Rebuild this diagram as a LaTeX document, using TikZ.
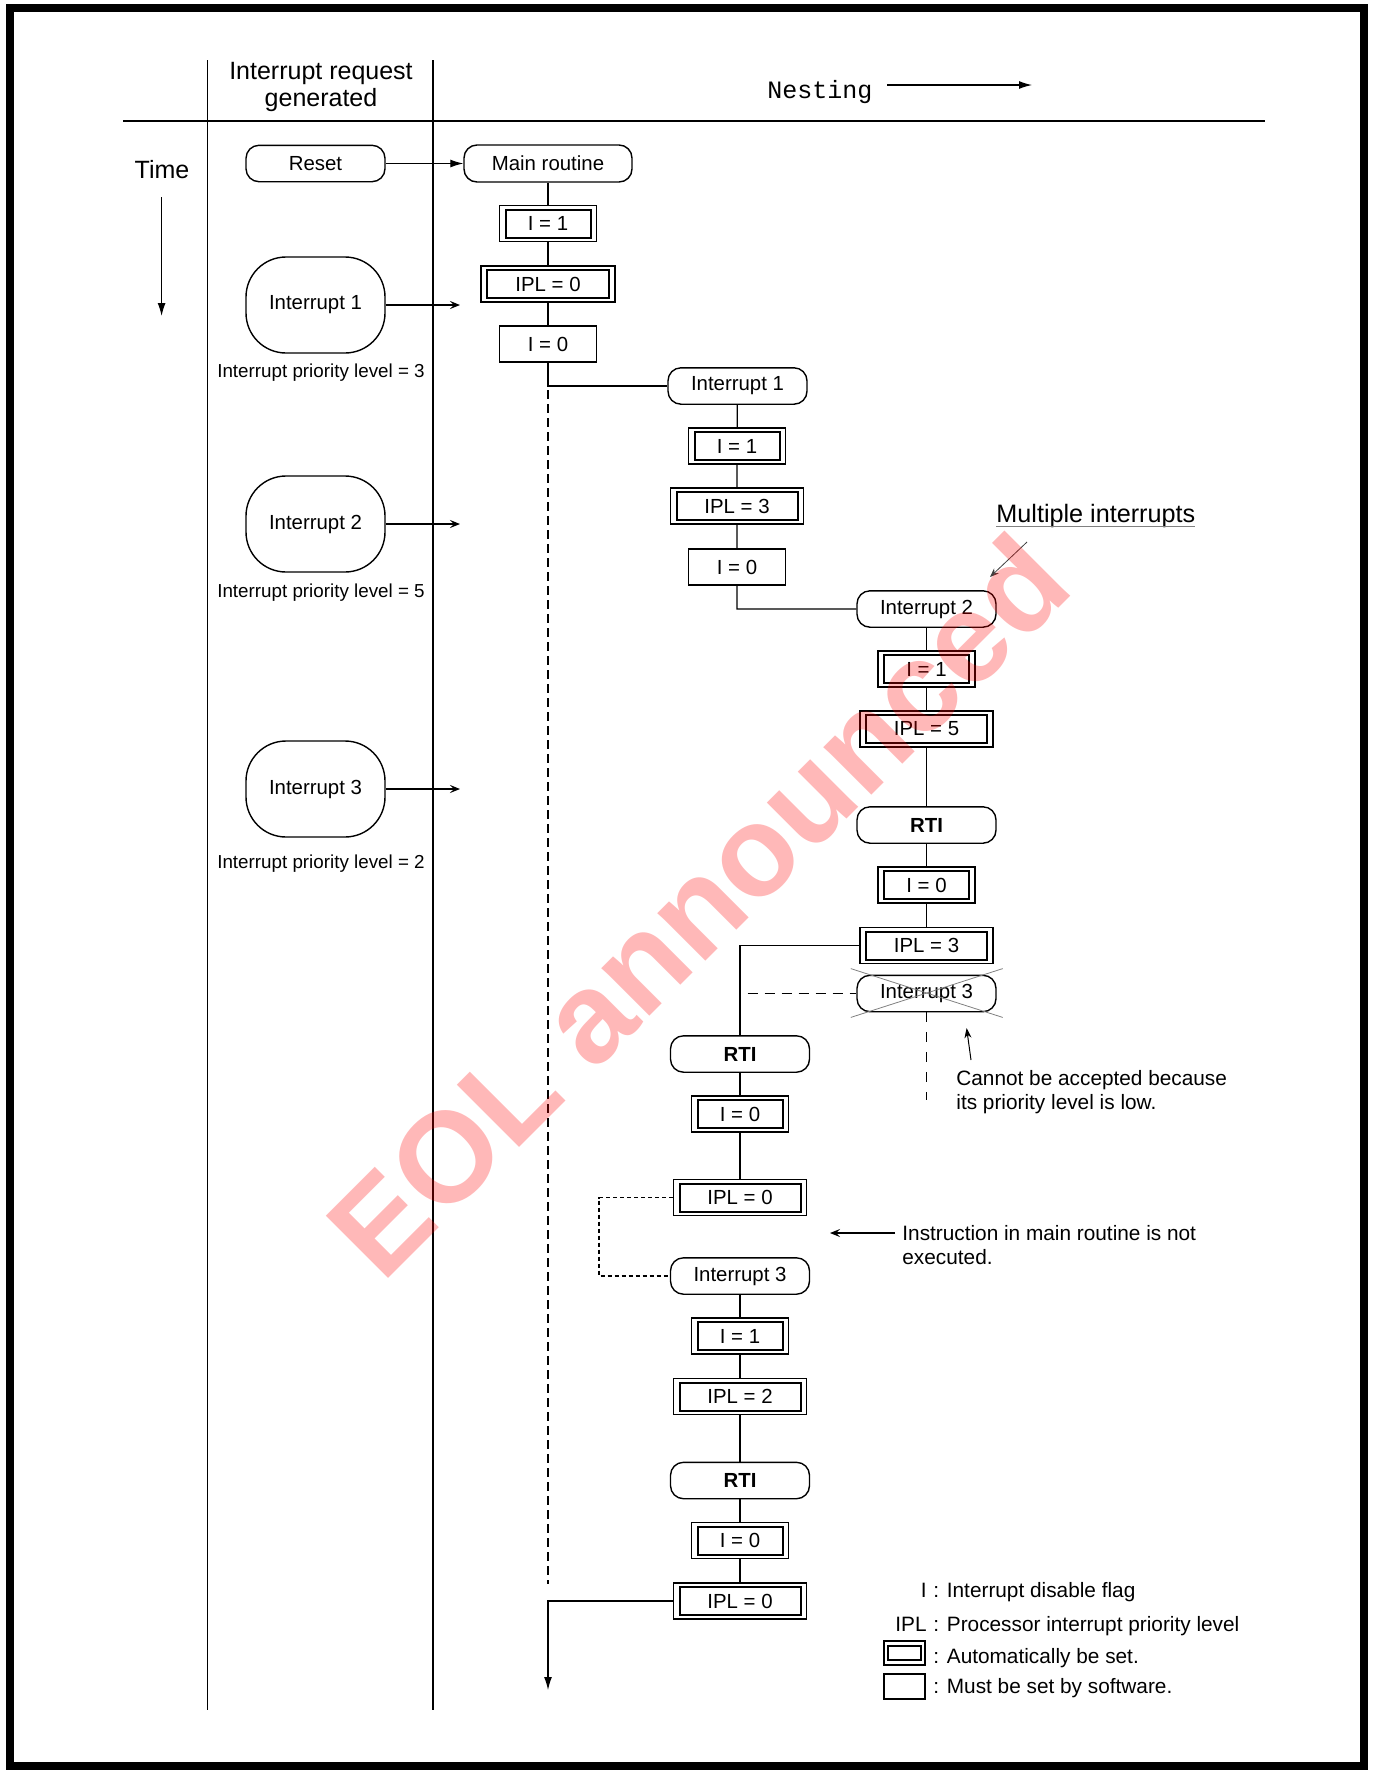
\documentclass[tikz,border=0pt]{standalone}
\usepackage{fontspec}
\setmainfont{Liberation Sans}
\newfontfamily\monofont{Liberation Mono}
\usetikzlibrary{arrows.meta,calc}
\begin{document}
\begin{tikzpicture}[x=0.5pt,y=-0.5pt,
  every node/.style={font=\fontsize{10.2}{12}\selectfont, inner sep=0pt},
  term/.style={draw, line width=0.7pt, rounded corners=6.5pt, minimum width=69.5pt, minimum height=18.2pt},
  bigterm/.style={draw, line width=0.7pt, rounded corners=20pt, minimum width=69.5pt, minimum height=48pt},
  sbox/.style={draw, line width=0.7pt, minimum width=48.5pt, minimum height=18pt},
  abox/.style={draw, line width=0.7pt, minimum width=48.5pt, minimum height=18pt,
     path picture={\draw[line width=1pt] ([shift={(3pt,-2pt)}]path picture bounding box.north west) rectangle ([shift={(-3pt,2pt)}]path picture bounding box.south east);}},
  wbox/.style={abox, minimum width=66.5pt},
  conn/.style={line width=0.6pt},
  dashline/.style={line width=0.6pt, dash pattern=on 4.5pt off 2.5pt},
  dashh/.style={line width=0.6pt, dash pattern=on 5pt off 3.5pt},
  dotline/.style={line width=0.6pt, dash pattern=on 2pt off 1.5pt},
  solidarrow/.style={line width=0.6pt, -{Latex[length=6.5pt,width=4pt]}},
  barb/.style={line width=0.6pt, -{Stealth[length=5pt,width=4pt,inset=2pt]}},
  annot/.style={font=\fontsize{10.4}{11.8}\selectfont, align=left},
  prio/.style={font=\fontsize{9.4}{11}\selectfont},
  head/.style={font=\fontsize{12.5}{13.5}\selectfont, align=center}
]
\useasboundingbox (0,0) rectangle (1372,1773);
% frame
\draw[line width=4pt] (10,7.5) rectangle (1364,1766);

% header
\draw[conn] (207.5,60) -- (207.5,1710);
\draw[conn] (433,60) -- (433,1710);
\draw[conn] (123,121) -- (1265,121);
\node[head] (hdr) at (321,86.5) {Interrupt request\\generated};
\node[font=\monofont\fontsize{12.5}{13}\selectfont, anchor=base] (nest) at (820,98) {Nesting};
\coordinate (na) at (887,85);
\coordinate (nb) at (1032,85);
\draw[solidarrow] (na) -- (nb);
\node[font=\fontsize{12.5}{13}\selectfont, anchor=base] (time) at (162,178) {Time};
\coordinate (ta) at (161.6,197);
\coordinate (tb) at (161.6,316);
\draw[solidarrow] (ta) -- (tb);

% left column
\node[term] (reset) at (315.5,163.5) {Reset};
\node[bigterm] (irq1) at (315.5,305) {Interrupt 1};
\node[prio] (p1) at (321,373) {Interrupt priority level = 3};
\node[bigterm] (irq2) at (315.5,524) {Interrupt 2};
\node[prio] (p2) at (321,593) {Interrupt priority level = 5};
\node[bigterm] (irq3) at (315.5,789) {Interrupt 3};
\node[prio] (p3) at (321,864) {Interrupt priority level = 2};
\coordinate (a1) at (460,305);
\coordinate (a2) at (460,524);
\coordinate (a3) at (460,789);
\draw[barb] (irq1) -- (a1);
\draw[barb] (irq2) -- (a2);
\draw[barb] (irq3) -- (a3);

% main column
\node[term, minimum width=84pt, minimum height=18.5pt] (main) at (548,163.5) {Main routine};
\node[abox] (i1a) at (548,223.5) {I = 1};
\node[wbox, minimum width=67pt] (ipl0a) at (548,284) {IPL = 0};
\node[sbox] (i0a) at (548,344) {I = 0};
\coordinate (br1) at (548,386);
\coordinate (dashend) at (548,1584);
\coordinate (brend) at (548,1601);
\coordinate (arrend) at (548,1690);
\draw[solidarrow] (reset) -- (main);

% nesting level 1
\node[term] (int1) at (737.5,386) {Interrupt 1};
\node[abox] (i1b) at (737,446) {I = 1};
\node[wbox] (ipl3b) at (737,506) {IPL = 3};
\node[sbox] (i0b) at (737,567) {I = 0};
\coordinate (br2) at (737,609);

% nesting level 2
\node[term] (int2) at (926.5,609) {Interrupt 2};
\node[abox] (i1c) at (926.5,669) {I = 1};
\node[wbox] (ipl5c) at (926.5,729) {IPL = 5};
\node[term] (rti1) at (926.5,825) {\bfseries RTI};
\node[abox] (i0c) at (926.5,885) {I = 0};
\node[wbox] (ipl3c) at (926.5,945.5) {IPL = 3};
\node[term] (int3x) at (926.5,993.5) {Interrupt 3};
\coordinate (br3) at (740,945.5);
\coordinate (dh) at (747.5,993.5);
\coordinate (dv) at (926.5,1100);

% back in level 1
\node[term] (rti2) at (740,1054) {\bfseries RTI};
\node[abox] (i0d) at (740,1114) {I = 0};
\node[wbox] (ipl0d) at (740,1197.5) {IPL = 0};
\node[term] (int3) at (740,1276) {Interrupt 3};
\node[abox] (i1d) at (740,1336) {I = 1};
\node[wbox] (ipl2d) at (740,1396.5) {IPL = 2};
\node[term] (rti3) at (740,1480.5) {\bfseries RTI};
\node[abox] (i0e) at (740,1540.5) {I = 0};
\node[wbox] (ipl0e) at (740,1601) {IPL = 0};
\coordinate (dt1) at (599,1197.5);

% connectors
\draw[conn] (main) -- (i1a) -- (ipl0a) -- (i0a) -- (br1) -- (int1);
\draw[dashline] ($(br1)+(0,4)$) -- (dashend);
\draw[conn] (int1) -- (i1b) -- (ipl3b) -- (i0b) -- (br2) -- (int2);
\draw[conn] (int2) -- (i1c) -- (ipl5c) -- (rti1) -- (i0c) -- (ipl3c);
\draw[conn] (ipl3c) -- (br3) -- (rti2);
\draw[dashh] (dh) -- (int3x);
\draw[line width=0.6pt, dash pattern=on 5pt off 5pt] (int3x) -- (dv);
\draw[line width=0.4pt, gray] ($(int3x.north west)+(-5.5,-6)$) -- ($(int3x.south east)+(6,5)$);
\draw[line width=0.4pt, gray] ($(int3x.south west)+(-5.5,5)$) -- ($(int3x.north east)+(6,-6)$);
\draw[conn] (rti2) -- (i0d) -- (ipl0d);
\draw[dotline] (ipl0d) -- (dt1) |- (int3);
\draw[conn] (int3) -- (i1d) -- (ipl2d) -- (rti3) -- (i0e) -- (ipl0e);
\draw[solidarrow] (ipl0e) -- (brend) -- (arrend);

% annotations
\node[font=\fontsize{12.6}{14}\selectfont, anchor=base west] (multi) at (996,522) {Multiple interrupts};
\draw[line width=0.5pt, gray] (multi.base west) ++(0,4) -- ++(199,0);
\coordinate (ma) at (1027,542);
\coordinate (mb) at (990,577);
\draw[line width=0.4pt, black!75, -{Stealth[length=4.5pt,width=3.5pt,inset=1.5pt]}] (ma) -- (mb);

\node[annot, anchor=west] (cannot) at (956,1092) {Cannot be accepted because\\its priority level is low.};
\coordinate (ca) at (971,1060);
\coordinate (cb) at (966.6,1028);
\draw[line width=0.5pt, -{Stealth[length=5pt,width=3.5pt,inset=1.5pt]}] (ca) -- (cb);

\node[annot, anchor=west] (instr) at (902,1245) {Instruction in main routine is not\\executed.};
\coordinate (ia) at (895,1233);
\coordinate (ib) at (830,1233);
\draw[barb] (ia) -- (ib);

% legend
\node[annot, anchor=base east] (lgI) at (927,1597) {I};
\node[annot, anchor=base west] (lgIt) at (933,1597) {: Interrupt disable flag};
\node[annot, anchor=base east] (lgP) at (927,1631) {IPL};
\node[annot, anchor=base west] (lgPt) at (933,1631) {: Processor interrupt priority level};
\node[draw, line width=0.7pt, minimum width=20.5pt, minimum height=12pt,
  path picture={\draw[line width=0.9pt] ([shift={(2pt,-2.5pt)}]path picture bounding box.north west) rectangle ([shift={(-2pt,2.5pt)}]path picture bounding box.south east);}] (lgA) at (904.5,1653) {};
\node[annot, anchor=base west] (lgAt) at (933,1663) {: Automatically be set.};
\node[draw, line width=0.7pt, minimum width=20.5pt, minimum height=12.5pt] (lgS) at (904.5,1686.5) {};
\node[annot, anchor=base west] (lgSt) at (933,1693) {: Must be set by software.};

% watermark
\node[rotate=45, text=red, text opacity=0.28, font=\bfseries\fontsize{64}{64}\selectfont] (wm) at (697,905) {EOL announced};
\end{tikzpicture}
\end{document}
